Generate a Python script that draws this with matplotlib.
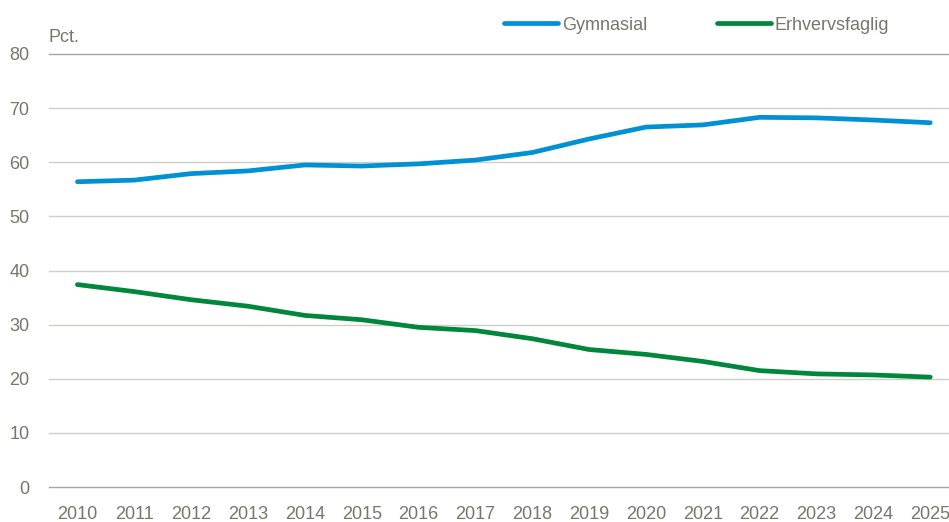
import numpy as np
import matplotlib
matplotlib.use("Agg")
from matplotlib import pyplot as plt

plt.rcParams['font.family'] = ['Liberation Sans', 'DejaVu Sans']

years = list(range(2010, 2026))
gymnasial = [56.4, 56.7, 57.9, 58.4, 59.5, 59.3, 59.7, 60.4, 61.8, 64.3, 66.5, 66.9, 68.3, 68.2, 67.8, 67.3]
erhvervsfaglig = [37.4, 36.1, 34.6, 33.4, 31.7, 30.9, 29.5, 28.9, 27.4, 25.4, 24.5, 23.2, 21.5, 20.9, 20.7, 20.3]
y_ticks = [0, 10, 20, 30, 40, 50, 60, 70, 80]

txt = '#77776a'
blue = '#0091d5'
green = '#00873c'

fig = plt.figure(figsize=(9.49, 5.22), dpi=100)
ax = fig.add_axes([49/949, 35/522, 1 - 49/949, (487-54)/522])

ax.plot(years, gymnasial, color=blue, lw=3.4, solid_capstyle='round', label='Gymnasial')
ax.plot(years, erhvervsfaglig, color=green, lw=3.4, solid_capstyle='round', label='Erhvervsfaglig')

ax.set_ylim(0, 80)
ax.set_xlim(2009.5, 2025.33)
ax.set_yticks(y_ticks)
ax.set_xticks(years)
ax.tick_params(axis='both', length=0, colors=txt, labelsize=13)
ax.tick_params(axis='y', pad=14)
ax.tick_params(axis='x', pad=14)
for s in ax.spines.values():
	s.set_visible(False)
ax.yaxis.grid(True, color='#cfcfc7', lw=1)
ax.set_axisbelow(True)
gl = ax.get_ygridlines()
for g in gl:
	g.set_clip_on(False)
gl[0].set_color('#a8a898')
gl[-1].set_color('#a8a898')

fig.text(48/949, 1 - 38/522, 'Pct.', color=txt, fontsize=13, va='center', ha='left')

leg = fig.legend(loc='center left', bbox_to_anchor=(488/949, 1 - 25/522), ncol=2,
	frameon=False, fontsize=13, handlelength=3.0, handletextpad=0.2, columnspacing=3.85)
for t in leg.get_texts():
	t.set_color(txt)

fig.savefig('out.png', dpi=100)
